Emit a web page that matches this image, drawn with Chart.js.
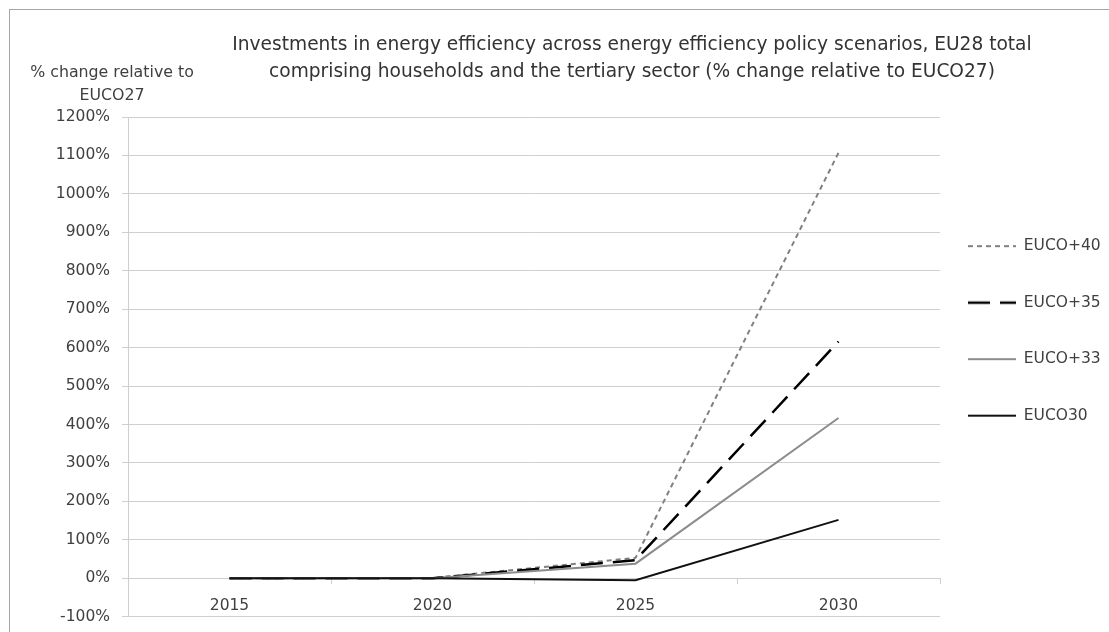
<!DOCTYPE html>
<html>
<head>
<meta charset="utf-8">
<script src="https://cdn.jsdelivr.net/npm/chart.js@4.4.1/dist/chart.umd.min.js"></script>
<style>
  html, body { margin: 0; background: #fff; overflow: hidden; }
  #frame { position: absolute; left: 9px; top: 9px; width: 1120px; height: 640px; border: 1px solid #a6a6a6; }
  /* a bit taller than the window: the y axis wants ~21px under the -100% line */
  #wrap { position: absolute; left: 0; top: 0; width: 1109px; height: 638px; }
</style>
</head>
<body>
<div id="frame"></div>
<div id="wrap"><canvas id="chart"></canvas></div>
<script>
// data
const years = ['2015', '2020', '2025', '2030'];
const euco40 = [0, 1, 53, 1107];
const euco35 = [0, 0, 47, 616];
const euco33 = [0, 0, 38, 417];
const euco30 = [0, 0, -5, 152];
const seriesNames = ['EUCO+40', 'EUCO+35', 'EUCO+33', 'EUCO30'];
const titleLines = [
  'Investments in energy efficiency across energy efficiency policy scenarios, EU28 total',
  'comprising households and the tertiary sector (% change relative to EUCO27)'
];
const yCaption = ['% change relative to', 'EUCO27'];

const FONT = '"DejaVu Sans", sans-serif';
const TEXT = '#404040';
const GRID = '#cfcfcf';

// legend swatch: chart.js draws 'line' point styles without the dash, so use a small canvas
function swatch(color, width, dash) {
  const c = document.createElement('canvas');
  c.width = 48;
  c.height = 6;
  const g = c.getContext('2d');
  g.strokeStyle = color;
  g.lineWidth = width;
  g.setLineDash(dash);
  g.beginPath();
  g.moveTo(0, 3);
  g.lineTo(48, 3);
  g.stroke();
  return c;
}

// title and y caption sit where excel put them, not where chart.js would
const captions = {
  id: 'captions',
  afterDraw(chart) {
    const ctx = chart.ctx;
    ctx.save();
    ctx.fillStyle = '#333';
    ctx.textAlign = 'center';
    ctx.textBaseline = 'middle';
    ctx.font = '18.6px ' + FONT;
    ctx.fillText(titleLines[0], 632, 45);
    ctx.fillText(titleLines[1], 632, 72);
    ctx.fillStyle = TEXT;
    ctx.font = '15.8px ' + FONT;
    ctx.fillText(yCaption[0], 112, 73);
    ctx.fillText(yCaption[1], 112, 96);
    ctx.restore();
  }
};

const styles = [
  { color: '#808080', width: 2, dash: [5, 4] },
  { color: '#000000', width: 2.5, dash: [22, 10] },
  { color: '#8c8c8c', width: 2, dash: [] },
  { color: '#111111', width: 2, dash: [] }
];
const series = [euco40, euco35, euco33, euco30];

new Chart(document.getElementById('chart'), {
  type: 'line',
  data: {
    labels: years,
    datasets: series.map((d, i) => ({
      label: seriesNames[i],
      data: d,
      order: series.length - 1 - i, // EUCO30 drawn last, on top
      borderColor: styles[i].color,
      borderWidth: styles[i].width,
      borderDash: styles[i].dash,
      pointStyle: swatch(styles[i].color, styles[i].width, styles[i].dash)
    }))
  },
  plugins: [captions],
  options: {
    responsive: true,
    maintainAspectRatio: false,
    animation: false,
    layout: { padding: { left: 0, top: 117, right: 0, bottom: 15 } },
    elements: {
      point: { radius: 0 },
      line: { tension: 0, fill: false, borderCapStyle: 'butt' }
    },
    scales: {
      x: {
        position: { y: 0 },
        offset: true,
        grid: { drawOnChartArea: false, offset: true, tickLength: 5, color: GRID },
        border: { color: GRID },
        ticks: { color: TEXT, font: { family: FONT, size: 15.5 }, padding: 13 }
      },
      y: {
        min: -100,
        max: 1200,
        afterFit: (s) => { s.width = 128; },
        grid: { color: GRID, tickLength: 6 },
        border: { color: GRID },
        ticks: {
          stepSize: 100,
          color: TEXT,
          font: { family: FONT, size: 15.5 },
          padding: 12,
          callback: (v) => v + '%'
        }
      }
    },
    plugins: {
      title: { display: false },
      tooltip: { enabled: false },
      legend: {
        position: 'right',
        align: 'start',
        reverse: true,
        maxWidth: 169,
        title: { display: true, text: '', padding: { top: 79, bottom: 0 } },
        labels: {
          usePointStyle: true,
          pointStyleWidth: 48,
          padding: 28,
          color: TEXT,
          font: { family: FONT, size: 15.5, lineHeight: '28.5px' },
          // one-line arrays make chart.js space the rows by lineHeight
          generateLabels: (chart) => Chart.defaults.plugins.legend.labels.generateLabels(chart)
            .map((item) => Object.assign(item, { text: [item.text] }))
        }
      }
    }
  }
});
</script>
</body>
</html>
